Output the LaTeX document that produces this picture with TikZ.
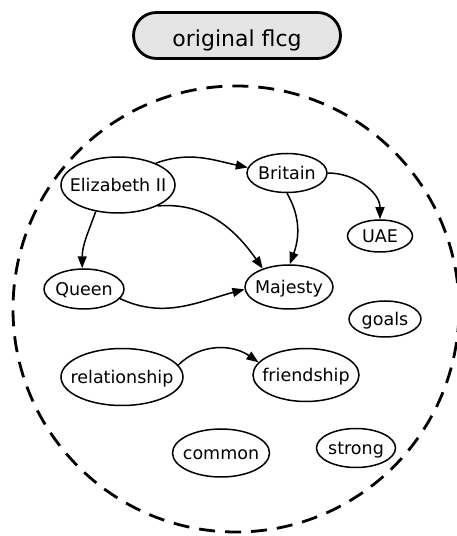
\documentclass[tikz,border=0pt]{standalone}
\usepackage{fontspec}
\setmainfont{DejaVu Sans}
\usetikzlibrary{shapes.geometric,shapes.misc,arrows.meta}

% label centred on the node without affecting its size
\newcommand{\lbl}[1]{\makebox[0pt]{\raisebox{-0.365em}[0pt][0pt]{#1}}}

\tikzset{
  concept/.style n args={2}{ellipse, draw, line width=1.5pt, inner sep=0pt,
    minimum width=#1, minimum height=#2,
    font=\fontsize{17.5}{20}\selectfont},
  rel/.style={draw, line width=1.5pt, -{Triangle[length=12pt,width=9pt]}},
  pill/.style={rounded rectangle, draw, line width=2.8pt, fill=black!10,
    inner sep=0pt, minimum width=207pt, minimum height=46pt,
    font=\fontsize{22}{26}\selectfont},
  boundary/.style={draw, line width=2.8pt, dash pattern=on 16pt off 10pt}
}

\begin{document}
\begin{tikzpicture}[x=1pt,y=1pt]
\useasboundingbox (0,0) rectangle (457,536);

% title
\node[pill] (title) at (237,500.5) {\makebox[0pt]{\raisebox{-11.5pt}[0pt][0pt]{original flcg}}};

% enclosing dashed circle
\draw[boundary] (236,227) circle[radius=223];

% concepts
\node[concept={114pt}{56pt}] (eliz)   at (118,351) {\lbl{Elizabeth II}};
\node[concept={80pt}{39pt}]  (brit)   at (287,363) {\lbl{Britain}};
\node[concept={65pt}{32pt}]  (uae)    at (380,300) {\lbl{UAE}};
\node[concept={80pt}{40pt}]  (queen)  at (84,247)  {\lbl{Queen}};
\node[concept={88pt}{44pt}]  (maj)    at (289,249) {\lbl{Majesty}};
\node[concept={72pt}{36pt}]  (goals)  at (385,217) {\lbl{goals}};
\node[concept={122pt}{57pt}] (relat)  at (122,159) {\lbl{relationship}};
\node[concept={106pt}{53pt}] (friend) at (306,161) {\lbl{friendship}};
\node[concept={97pt}{48pt}]  (common) at (221,83)  {\lbl{common}};
\node[concept={79pt}{39pt}]  (strong) at (356,88)  {\lbl{strong}};

% relations
\draw[rel] (eliz.30)   to[out=20,in=168]  (brit.172);
\draw[rel] (eliz.230)  to[out=250,in=90]  (queen.95);
\draw[rel] (eliz.-28)  to[out=5,in=125]   (maj.145);
\draw[rel] (brit.-90)  to[out=-60,in=70]  (maj.88);
\draw[rel] (brit.0)    to[out=0,in=90]    (uae.90);
\draw[rel] (queen.-15) to[out=-25,in=195] (maj.183);
\draw[rel] (relat.12)  to[out=45,in=145]  (friend.165);
\end{tikzpicture}
\end{document}
